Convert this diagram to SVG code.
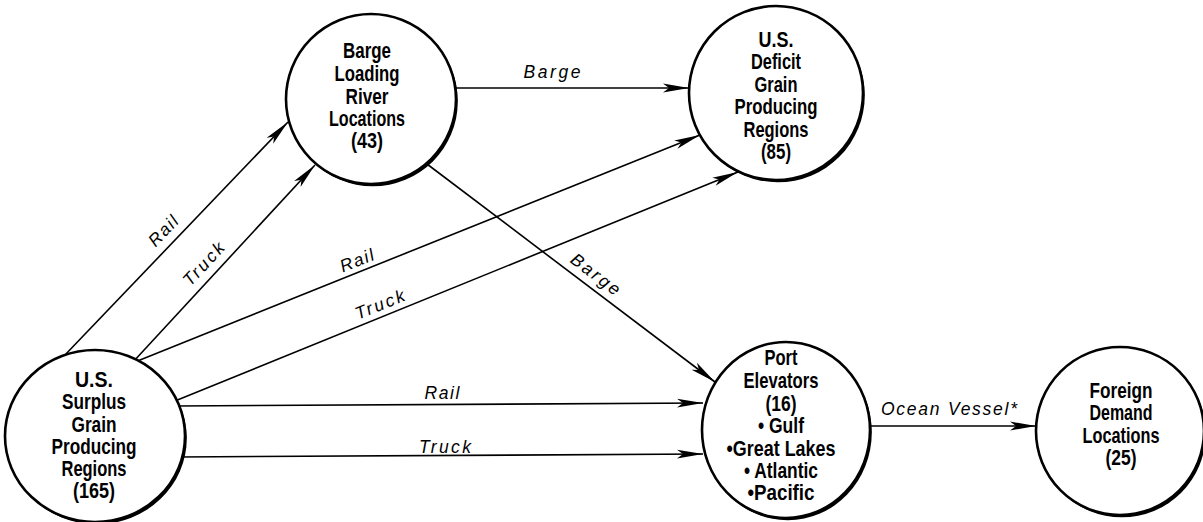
<svg xmlns="http://www.w3.org/2000/svg" width="1203" height="522" viewBox="0 0 1203 522">
<style>
.nd{fill:#fff;stroke:#000;stroke-width:2.6}
.sh{fill:#000}
.nt{font-family:"Liberation Sans Narrow","Liberation Sans",Arial,sans-serif;font-weight:bold;font-size:21.5px;text-anchor:middle;fill:#000}
.lb{font-family:"Liberation Sans",Arial,sans-serif;font-style:italic;font-size:17.5px;text-anchor:middle;fill:#000}
.cn line{stroke:#000;stroke-width:1.6;fill:none;marker-end:url(#ah)}
</style>
<defs>
<marker id="ah" markerUnits="userSpaceOnUse" markerWidth="28" markerHeight="12" refX="26" refY="5" orient="auto">
<path d="M0,0.6 L26,5 L0,9.4 L6,5 z" fill="#000"/>
</marker>
</defs>
<rect width="1203" height="522" fill="#fff"/>
<g id="connectors" class="cn">
<line x1="64" y1="356" x2="288" y2="122"/>
<line x1="133" y1="362" x2="315" y2="165"/>
<line x1="134.4" y1="362.2" x2="700" y2="135"/>
<line x1="169.4" y1="403.3" x2="738" y2="172"/>
<line x1="450" y1="88" x2="689" y2="88"/>
<line x1="423" y1="161" x2="715" y2="382"/>
<line x1="175" y1="406" x2="703" y2="403"/>
<line x1="177" y1="457" x2="703" y2="454"/>
<line x1="866" y1="426" x2="1036" y2="426"/>
</g>
<g id="labels">
<text class="lb" x="167.5" y="235" transform="rotate(-46.3 167.5 235)" textLength="35" lengthAdjust="spacing">Rail</text>
<text class="lb" x="208" y="268" transform="rotate(-47.3 208 268)" textLength="52" lengthAdjust="spacing">Truck</text>
<text class="lb" x="359" y="266" transform="rotate(-21.9 359 266)" textLength="35" lengthAdjust="spacing">Rail</text>
<text class="lb" x="382" y="310" transform="rotate(-22.1 382 310)" textLength="52" lengthAdjust="spacing">Truck</text>
<text class="lb" x="552" y="78" textLength="57" lengthAdjust="spacing">Barge</text>
<text class="lb" x="592" y="279" transform="rotate(37 592 279)" textLength="57" lengthAdjust="spacing">Barge</text>
<text class="lb" x="442" y="399" textLength="35" lengthAdjust="spacing">Rail</text>
<text class="lb" x="445" y="453" textLength="52" lengthAdjust="spacing">Truck</text>
<text class="lb" x="949" y="415" textLength="136" lengthAdjust="spacing">Ocean Vessel*</text>
</g>
<g id="surplus">
<ellipse class="sh" cx="96.8" cy="438.3" rx="90" ry="86"/>
<ellipse class="nd" cx="95" cy="436" rx="90" ry="86"/>
<text class="nt" x="94" y="387" textLength="38" lengthAdjust="spacingAndGlyphs">U.S.</text>
<text class="nt" x="94" y="409" textLength="64" lengthAdjust="spacingAndGlyphs">Surplus</text>
<text class="nt" x="94" y="432" textLength="45" lengthAdjust="spacingAndGlyphs">Grain</text>
<text class="nt" x="94" y="454" textLength="85" lengthAdjust="spacingAndGlyphs">Producing</text>
<text class="nt" x="94" y="476" textLength="65" lengthAdjust="spacingAndGlyphs">Regions</text>
<text class="nt" x="94" y="498" textLength="42" lengthAdjust="spacingAndGlyphs">(165)</text>
</g>
<g id="barge-loading">
<circle class="sh" cx="372.8" cy="101.3" r="85"/>
<circle class="nd" cx="371" cy="99" r="85"/>
<text class="nt" x="367" y="58" textLength="48" lengthAdjust="spacingAndGlyphs">Barge</text>
<text class="nt" x="367" y="81" textLength="65" lengthAdjust="spacingAndGlyphs">Loading</text>
<text class="nt" x="367" y="104" textLength="43" lengthAdjust="spacingAndGlyphs">River</text>
<text class="nt" x="367" y="126" textLength="76" lengthAdjust="spacingAndGlyphs">Locations</text>
<text class="nt" x="367" y="148" textLength="32" lengthAdjust="spacingAndGlyphs">(43)</text>
</g>
<g id="deficit">
<circle class="sh" cx="777.8" cy="95.3" r="87"/>
<circle class="nd" cx="776" cy="93" r="87"/>
<text class="nt" x="776" y="47" textLength="35" lengthAdjust="spacingAndGlyphs">U.S.</text>
<text class="nt" x="776" y="69" textLength="50" lengthAdjust="spacingAndGlyphs">Deficit</text>
<text class="nt" x="776" y="92" textLength="43" lengthAdjust="spacingAndGlyphs">Grain</text>
<text class="nt" x="776" y="114" textLength="83" lengthAdjust="spacingAndGlyphs">Producing</text>
<text class="nt" x="776" y="137" textLength="65" lengthAdjust="spacingAndGlyphs">Regions</text>
<text class="nt" x="776" y="159" textLength="30" lengthAdjust="spacingAndGlyphs">(85)</text>
</g>
<g id="port">
<ellipse class="sh" cx="787.8" cy="432.3" rx="84" ry="88"/>
<ellipse class="nd" cx="786" cy="430" rx="84" ry="88"/>
<text class="nt" x="781" y="365" textLength="33" lengthAdjust="spacingAndGlyphs">Port</text>
<text class="nt" x="781" y="388" textLength="75" lengthAdjust="spacingAndGlyphs">Elevators</text>
<text class="nt" x="781" y="411" textLength="31" lengthAdjust="spacingAndGlyphs">(16)</text>
<text class="nt" x="781" y="433" textLength="46" lengthAdjust="spacingAndGlyphs">• Gulf</text>
<text class="nt" x="781" y="456" textLength="109" lengthAdjust="spacingAndGlyphs">•Great Lakes</text>
<text class="nt" x="781" y="478" textLength="74" lengthAdjust="spacingAndGlyphs">• Atlantic</text>
<text class="nt" x="781" y="500" textLength="67" lengthAdjust="spacingAndGlyphs">•Pacific</text>
</g>
<g id="foreign">
<circle class="sh" cx="1121.8" cy="433.3" r="84"/>
<circle class="nd" cx="1120" cy="431" r="84"/>
<text class="nt" x="1121" y="398" textLength="63" lengthAdjust="spacingAndGlyphs">Foreign</text>
<text class="nt" x="1121" y="420" textLength="63" lengthAdjust="spacingAndGlyphs">Demand</text>
<text class="nt" x="1121" y="443" textLength="77" lengthAdjust="spacingAndGlyphs">Locations</text>
<text class="nt" x="1121" y="465" textLength="31" lengthAdjust="spacingAndGlyphs">(25)</text>
</g>
</svg>
